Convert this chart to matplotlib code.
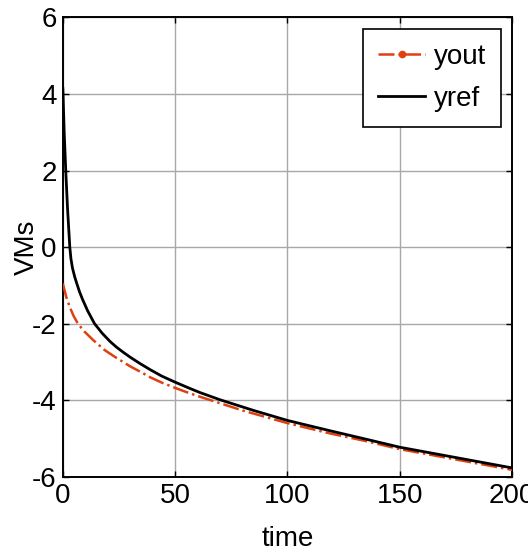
import matplotlib

matplotlib.use('Agg')
from matplotlib import pyplot as plt
from matplotlib.lines import Line2D

# values
t_ref = [0, 0.1, 0.6, 1.3, 2.1, 3.1, 3.6, 4.3, 5.3, 6.2, 7.5, 8.8, 11, 14.1, 17.5, 20.9, 24,
         26.7, 29.8, 34, 38.8, 44, 50, 56, 61, 70, 85, 100, 119, 135, 150, 175, 200]
yref = [4.15, 4.0, 3.0, 2.0, 1.0, 0.0, -0.30, -0.55, -0.78, -0.95, -1.18, -1.37, -1.66, -2.00,
        -2.25, -2.46, -2.62, -2.74, -2.87, -3.03, -3.20, -3.37, -3.53, -3.68, -3.80, -3.99,
        -4.27, -4.53, -4.80, -5.02, -5.23, -5.50, -5.77]

t_out = [0, 1.5, 3.1, 4.8, 6.7, 9.5, 13.5, 18.6, 20.9, 23.2, 29.8, 35.8, 38.8, 44, 50, 56,
         61, 70, 80, 100, 119, 135, 150, 175, 200]
yout = [-0.95, -1.30, -1.57, -1.80, -2.00, -2.20, -2.43, -2.69, -2.78, -2.87, -3.11, -3.30,
        -3.40, -3.54, -3.68, -3.81, -3.91, -4.08, -4.27, -4.60, -4.87, -5.07, -5.28, -5.55,
        -5.82]

xticks = [0, 50, 100, 150, 200]
yticks = [-6, -4, -2, 0, 2, 4, 6]

plt.rcParams['font.family'] = ['Liberation Sans', 'DejaVu Sans']
plt.rcParams['axes.unicode_minus'] = False

red = '#e0400f'

fig = plt.figure(figsize=(5.28, 5.54), dpi=100)
ax = fig.add_axes([0.119, 0.1395, 0.851, 0.829])

ax.plot(t_out, yout, color=red, lw=1.8, ls='-.', zorder=3)
ax.plot(t_ref, yref, color='black', lw=2.0, zorder=4)

ax.set_xlim(0, 200)
ax.set_ylim(-6, 6)
ax.set_xticks(xticks)
ax.set_yticks(yticks)
ax.grid(True, color='#a8a8a8', lw=1.0)
ax.set_axisbelow(True)
ax.tick_params(direction='in', length=4, width=1, top=True, right=True,
               labelsize=20, pad=4.5)
for s in ax.spines.values():
    s.set_linewidth(1.4)

ax.set_xlabel('time', fontsize=20, labelpad=12)
ax.set_ylabel('VMs', fontsize=20)
ax.yaxis.set_label_coords(-0.05, 0.5)

handles = [Line2D([], [], color=red, lw=1.8, ls='-.', marker='.', markersize=9),
           Line2D([], [], color='black', lw=2.0)]
leg = ax.legend(handles, ['yout', 'yref'], loc='upper right', fontsize=20,
                fancybox=False, framealpha=1, edgecolor='black', handlelength=1.7,
                borderaxespad=0.4, borderpad=0.55, handletextpad=0.3, labelspacing=0.58)
leg.get_frame().set_linewidth(1.2)

fig.savefig('out.png', dpi=100)
